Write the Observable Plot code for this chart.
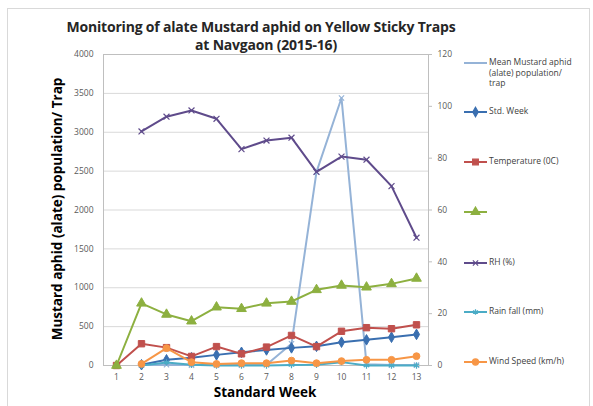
<!DOCTYPE html>
<html>
<head>
<meta charset="utf-8">
<script src="https://cdn.jsdelivr.net/npm/d3@7"></script>
<script src="https://cdn.jsdelivr.net/npm/@observablehq/plot@0.6"></script>
<style>
  html, body { margin: 0; padding: 0; background: #fff; }
  #wrap { position: relative; width: 593px; height: 406px; font-family: "Open Sans", sans-serif; overflow: hidden; }
  #frame { position: absolute; left: 7px; top: 8px; width: 583px; height: 420px; border: 1px solid #d9d9d9; box-sizing: border-box; }
  #chart { position: absolute; left: 0; top: 0; }
  .title { position: absolute; left: 0; width: 522px; text-align: center; font-weight: bold; font-size: 14px; color: #262626; letter-spacing: -0.2px; }
  .ytitle { position: absolute; left: 57px; top: 209px; transform: translate(-50%, -50%) rotate(-90deg); white-space: nowrap; font-weight: bold; font-size: 13.5px; color: #000; }
  .xtitle { position: absolute; left: 265px; top: 392px; transform: translate(-50%, -50%); white-space: nowrap; font-weight: bold; font-size: 13.5px; color: #000; }
  .leg { position: absolute; left: 464px; font-size: 8.5px; color: #404040; line-height: 10.5px; }
  .leg svg { position: absolute; left: 0; top: 0; }
  .leg span { position: absolute; left: 25px; white-space: nowrap; }
</style>
</head>
<body>
<div id="wrap">
  <div id="frame"></div>
  <div id="chart"></div>
  <div class="title" style="top:17px">Monitoring of alate Mustard aphid on Yellow Sticky Traps</div>
  <div class="title" style="top:35px; width:532px">at Navgaon (2015-16)</div>
  <div class="ytitle">Mustard aphid (alate) population/ Trap</div>
  <div class="xtitle">Standard Week</div>
  <div id="legend"></div>
</div>
<script>
// Data
const weeks = [1, 2, 3, 4, 5, 6, 7, 8, 9, 10, 11, 12, 13];
// left axis (aphids per trap)
const aphidPerTrap = [null, 5, 10, 5, 5, 5, 10, 280, 2490, 3440, 15, 5, 5];
// right axis series
const stdWeek     = [null, 0.3, 2.2, 3.0, 4.1, 5.1, 6.0, 6.8, 7.4, 9.0, 9.9, 10.9, 12.0];
const temperature = [0, 8.4, 6.9, 3.5, 7.3, 4.5, 7.1, 11.6, 7.3, 13.2, 14.6, 14.2, 15.7];
const unnamed     = [0, 24.0, 19.7, 17.1, 22.5, 21.9, 24.0, 24.7, 29.2, 30.9, 30.2, 31.5, 33.6];
const rh          = [null, 90.3, 96.0, 98.4, 95.2, 83.5, 86.8, 87.9, 74.7, 80.6, 79.4, 69.2, 49.3];
const rainfall    = [null, 0, 1.2, 0.3, 0, 0, 0, 0.2, 0.3, 1.3, 0, 0, 0];
const windSpeed   = [null, 0.6, 6.7, 1.3, 0.6, 0.9, 0.9, 1.9, 0.9, 1.7, 2.2, 2.2, 3.6];

const leftTicks = [0, 500, 1000, 1500, 2000, 2500, 3000, 3500, 4000];
const rightTicks = [0, 20, 40, 60, 80, 100, 120];
const leftMax = 4000, rightMax = 120;
const k = leftMax / rightMax;

const series = [
  {name: "Mean Mustard aphid (alate) population/ trap", values: aphidPerTrap, axis: "left", color: "#95b3d7", symbol: "times", filled: false, r: 2.5},
  {name: "Std.  Week", values: stdWeek, axis: "right", color: "#3a6fb0", symbol: "diamond", filled: true, r: 3.2},
  {name: "Temperature (0C)", values: temperature, axis: "right", color: "#c0504d", symbol: "square", filled: true, r: 3.6},
  {name: "", values: unnamed, axis: "right", color: "#8db040", symbol: "triangle", filled: true, r: 3.6},
  {name: "RH (%)", values: rh, axis: "right", color: "#5f4b8b", symbol: "times", filled: false, r: 2.8},
  {name: "Rain fall (mm)", values: rainfall, axis: "right", color: "#4bacc6", symbol: "asterisk", filled: false, r: 3},
  {name: "Wind Speed (km/h)", values: windSpeed, axis: "right", color: "#f79646", symbol: "circle", filled: true, r: 3.4}
];

const marks = [
  Plot.gridY(leftTicks, {stroke: "#d9d9d9", strokeOpacity: 1}),
  Plot.frame({stroke: "#bfbfbf"}),
  Plot.axisY({ticks: leftTicks, tickFormat: d => String(d), tickSize: 0, tickPadding: 10, label: null, fontSize: 8.5}),
  Plot.axisY({anchor: "right", ticks: rightTicks.map(v => v * k), tickFormat: d => String(Math.round(d / k)), tickSize: 3, tickPadding: 6, label: null, stroke: "#bfbfbf", fontSize: 8.5}),
  Plot.axisX({tickSize: 0, tickPadding: 8, label: null, fontSize: 8.5})
];

for (const s of series) {
  const rows = weeks.map((w, i) => ({week: w, v: s.values[i]})).filter(d => d.v != null);
  const yv = d => s.axis === "left" ? d.v : d.v * k;
  marks.push(Plot.line(rows, {x: "week", y: yv, stroke: s.color, strokeWidth: 2}));
  marks.push(Plot.dot(rows, {x: "week", y: yv, symbol: () => s.symbol, r: s.r,
    fill: s.filled ? s.color : "none", stroke: s.color, strokeWidth: s.filled ? 1 : 1.2}));
}

const chart = Plot.plot({
  width: 593,
  height: 406,
  marginLeft: 103,
  marginRight: 165,
  marginTop: 54,
  marginBottom: 41,
  x: {type: "point", domain: weeks, padding: 0.5},
  y: {domain: [0, leftMax]},
  symbol: {type: "identity"},
  style: {fontFamily: "Open Sans, sans-serif", fontSize: "8.5px", color: "#595959", background: "transparent"},
  marks
});
document.getElementById("chart").appendChild(chart);

// legend
const legendY = [63, 112, 162, 212, 263, 312, 362];
const legendLines = [["Mean Mustard aphid", "(alate) population/", "trap"], ["Std.  Week"], ["Temperature (0C)"], [""], ["RH (%)"], ["Rain fall (mm)"], ["Wind Speed (km/h)"]];
const legendEl = document.getElementById("legend");
series.forEach((s, i) => {
  const div = document.createElement("div");
  div.className = "leg";
  div.style.top = (legendY[i] - 6) + "px";
  const svg = d3.create("svg").attr("width", 24).attr("height", 12);
  svg.append("line").attr("x1", 0).attr("x2", 23).attr("y1", 6).attr("y2", 6).attr("stroke", s.color).attr("stroke-width", 2);
  if (i > 0) {
    const sym = d3.symbol().type({
      diamond: d3.symbolDiamond, square: d3.symbolSquare, triangle: d3.symbolTriangle,
      times: d3.symbolTimes, asterisk: d3.symbolAsterisk, circle: d3.symbolCircle
    }[s.symbol]).size(Math.PI * s.r * s.r * 0.8);
    svg.append("path").attr("d", sym()).attr("transform", "translate(11.5,6)")
      .attr("fill", s.filled ? s.color : "none").attr("stroke", s.color).attr("stroke-width", 1.2);
  }
  div.appendChild(svg.node());
  legendLines[i].forEach((t, j) => {
    const sp = document.createElement("span");
    sp.textContent = t;
    sp.style.top = (j * 10.5) + "px";
    div.appendChild(sp);
  });
  legendEl.appendChild(div);
});
</script>
</body>
</html>
